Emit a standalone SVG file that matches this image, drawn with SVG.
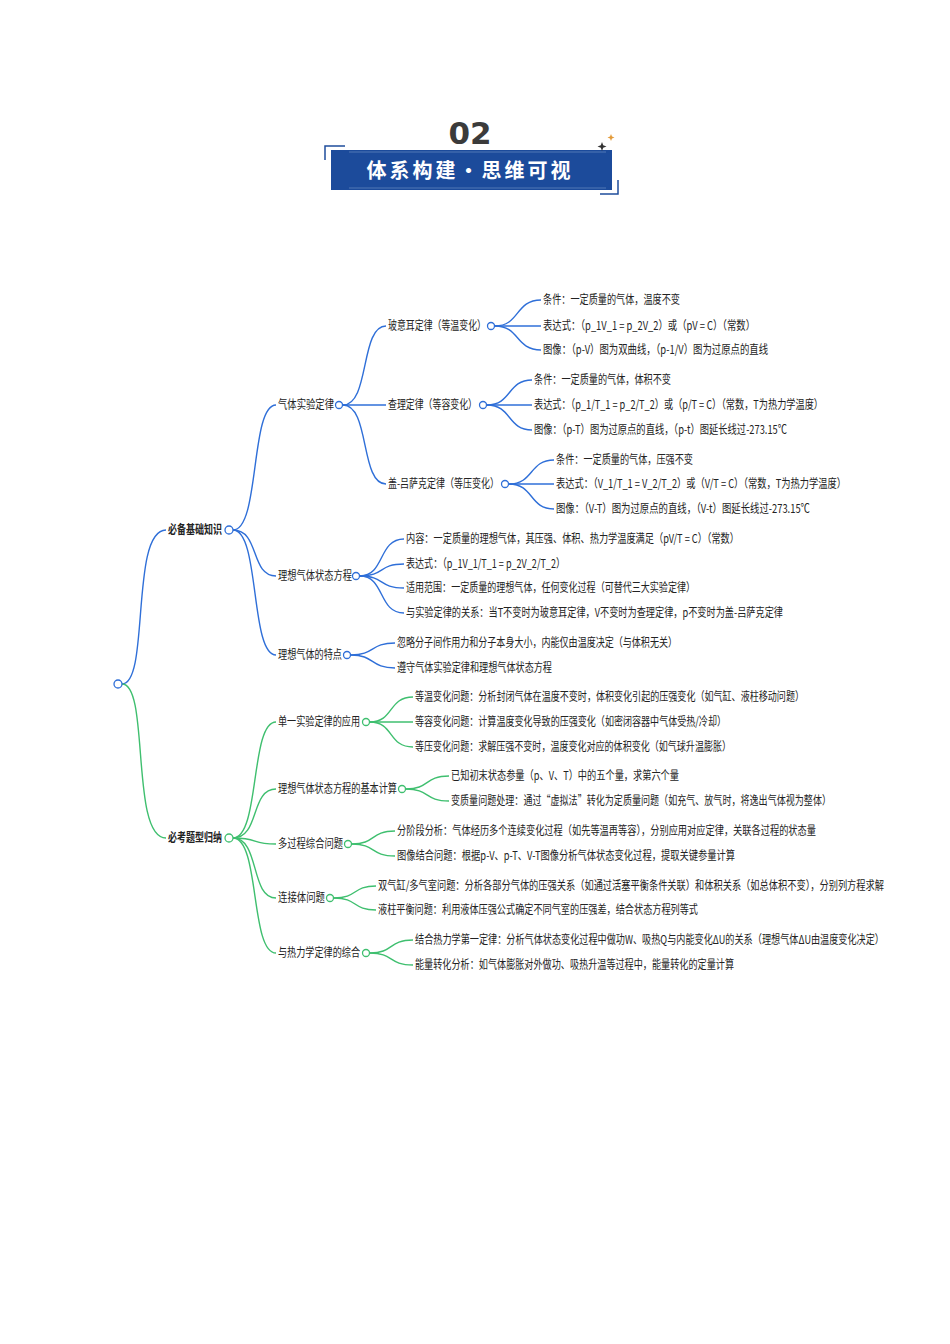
<svg xmlns="http://www.w3.org/2000/svg" width="950" height="1344" viewBox="0 0 950 1344">
<style>
text{font-family:"Noto Sans CJK SC","Liberation Sans",sans-serif;font-size:12px;fill:#222}
.b{font-weight:bold}
.cb{fill:#fff;stroke:#2f6fd8;stroke-width:1.3}
.cg{fill:#fff;stroke:#3fbf6f;stroke-width:1.3}
.lb{fill:none;stroke:#2f6fd8;stroke-width:1.4}
.lg{fill:none;stroke:#3fbf6f;stroke-width:1.4}
</style>
<rect width="950" height="1344" fill="#fff"/>
<g id="header">
<text x="470" y="144" text-anchor="middle" style="font-family:'DejaVu Sans',sans-serif;font-size:31px;font-weight:bold;fill:#3b3b3b">02</text>
<path d="M325 160V146H345" fill="none" stroke="#1f4e9c" stroke-width="1.5"/>
<path d="M618 180V194H600" fill="none" stroke="#1f4e9c" stroke-width="1.5"/>
<rect x="331" y="150" width="281" height="40" fill="#1c4b9b"/>
<path d="M349 152H606M349 188H606" stroke="#8ea9d6" stroke-width="0.8" opacity="0.6"/>
<text x="470" y="178" text-anchor="middle" class="b" style="font-size:20px;fill:#fff;letter-spacing:3px">体系构建·思维可视</text>
<path d="M602 142l1.2 3.3 3.3 1.2-3.3 1.2-1.2 3.3-1.2-3.3-3.3-1.2 3.3-1.2z" fill="#333"/>
<path d="M611 134l1 2.5 2.5 1-2.5 1-1 2.5-1-2.5-2.5-1 2.5-1z" fill="#e39b3a"/>
</g>
<g id="connectors">
<path class="lb" d="M122 684C150 684 130 530 166 530"/>
<path class="lg" d="M122 684C150 684 130 838 166 838"/>
<path class="lb" d="M233 530C260 530 250 405 276 405"/>
<path class="lb" d="M233 530C260 530 250 576 276 576"/>
<path class="lb" d="M233 530C260 530 250 655 276 655"/>
<path class="lb" d="M343 405C370 405 360 326 386 326"/>
<path class="lb" d="M343 405H386"/>
<path class="lb" d="M343 405C370 405 360 484 386 484"/>
<path class="lb" d="M495 326C520 326 515 300 541 300"/>
<path class="lb" d="M495 326H541"/>
<path class="lb" d="M495 326C520 326 515 350 541 350"/>
<path class="lb" d="M487 405C512 405 507 380 532 380"/>
<path class="lb" d="M487 405H532"/>
<path class="lb" d="M487 405C512 405 507 430 532 430"/>
<path class="lb" d="M509 484C534 484 529 460 554 460"/>
<path class="lb" d="M509 484H554"/>
<path class="lb" d="M509 484C534 484 529 509 554 509"/>
<path class="lb" d="M360 576C385 576 378 539 404 539"/>
<path class="lb" d="M360 576C385 576 378 564 404 564"/>
<path class="lb" d="M360 576C385 576 378 588 404 588"/>
<path class="lb" d="M360 576C385 576 378 613 404 613"/>
<path class="lb" d="M351 655C375 655 370 643 395 643"/>
<path class="lb" d="M351 655C375 655 370 668 395 668"/>
<path class="lg" d="M233 838C260 838 250 722 276 722"/>
<path class="lg" d="M233 838C260 838 250 789 276 789"/>
<path class="lg" d="M233 838C260 838 250 844 276 844"/>
<path class="lg" d="M233 838C260 838 250 898 276 898"/>
<path class="lg" d="M233 838C260 838 250 953 276 953"/>
<path class="lg" d="M370 722C394 722 388 697 413 697"/>
<path class="lg" d="M370 722H413"/>
<path class="lg" d="M370 722C394 722 388 747 413 747"/>
<path class="lg" d="M406 789C430 789 424 776 449 776"/>
<path class="lg" d="M406 789C430 789 424 801 449 801"/>
<path class="lg" d="M352 844C376 844 370 831 395 831"/>
<path class="lg" d="M352 844C376 844 370 856 395 856"/>
<path class="lg" d="M334 898C358 898 352 886 376 886"/>
<path class="lg" d="M334 898C358 898 352 910 376 910"/>
<path class="lg" d="M370 953C394 953 388 940 413 940"/>
<path class="lg" d="M370 953C394 953 388 965 413 965"/>
</g>
<g id="root"><circle class="cb" cx="118" cy="684" r="4"/></g>
<g id="n-jichu"><text class="b" x="168" y="534" textLength="54" lengthAdjust="spacingAndGlyphs">必备基础知识</text><circle class="cb" cx="229" cy="530" r="4"/></g>
<g id="n-tixing"><text class="b" x="168" y="842" textLength="54" lengthAdjust="spacingAndGlyphs">必考题型归纳</text><circle class="cg" cx="229" cy="838" r="4"/></g>
<g id="n-shiyan"><text x="278" y="409" textLength="56" lengthAdjust="spacingAndGlyphs">气体实验定律</text><circle class="cb" cx="339" cy="405" r="3.5"/></g>
<g id="n-boyi"><text x="388" y="330" textLength="98" lengthAdjust="spacingAndGlyphs">玻意耳定律（等温变化）</text><circle class="cb" cx="491" cy="326" r="3.5"/></g>
<g id="n-boyi-1"><text x="543" y="304" textLength="137" lengthAdjust="spacingAndGlyphs">条件：一定质量的气体，温度不变</text></g>
<g id="n-boyi-2"><text x="543" y="330" textLength="212" lengthAdjust="spacingAndGlyphs">表达式：（p_1V_1 = p_2V_2）或（pV = C）（常数）</text></g>
<g id="n-boyi-3"><text x="543" y="354" textLength="225" lengthAdjust="spacingAndGlyphs">图像：（p-V）图为双曲线，（p-1/V）图为过原点的直线</text></g>
<g id="n-chali"><text x="388" y="409" textLength="89" lengthAdjust="spacingAndGlyphs">查理定律（等容变化）</text><circle class="cb" cx="483" cy="405" r="3.5"/></g>
<g id="n-chali-1"><text x="534" y="384" textLength="137" lengthAdjust="spacingAndGlyphs">条件：一定质量的气体，体积不变</text></g>
<g id="n-chali-2"><text x="534" y="409" textLength="289" lengthAdjust="spacingAndGlyphs">表达式：（p_1/T_1 = p_2/T_2）或（p/T = C）（常数，T为热力学温度）</text></g>
<g id="n-chali-3"><text x="534" y="434" textLength="253" lengthAdjust="spacingAndGlyphs">图像：（p-T）图为过原点的直线，（p-t）图延长线过-273.15℃</text></g>
<g id="n-gai"><text x="388" y="488" textLength="111" lengthAdjust="spacingAndGlyphs">盖-吕萨克定律（等压变化）</text><circle class="cb" cx="505" cy="484" r="3.5"/></g>
<g id="n-gai-1"><text x="556" y="464" textLength="137" lengthAdjust="spacingAndGlyphs">条件：一定质量的气体，压强不变</text></g>
<g id="n-gai-2"><text x="556" y="488" textLength="290" lengthAdjust="spacingAndGlyphs">表达式：（V_1/T_1 = V_2/T_2）或（V/T = C）（常数，T为热力学温度）</text></g>
<g id="n-gai-3"><text x="556" y="513" textLength="254" lengthAdjust="spacingAndGlyphs">图像：（V-T）图为过原点的直线，（V-t）图延长线过-273.15℃</text></g>
<g id="n-zhuangtai"><text x="278" y="580" textLength="74" lengthAdjust="spacingAndGlyphs">理想气体状态方程</text><circle class="cb" cx="356" cy="576" r="3.5"/></g>
<g id="n-zt-1"><text x="406" y="543" textLength="333" lengthAdjust="spacingAndGlyphs">内容：一定质量的理想气体，其压强、体积、热力学温度满足（pV/T = C）（常数）</text></g>
<g id="n-zt-2"><text x="406" y="568" textLength="159" lengthAdjust="spacingAndGlyphs">表达式：（p_1V_1/T_1 = p_2V_2/T_2）</text></g>
<g id="n-zt-3"><text x="406" y="592" textLength="289" lengthAdjust="spacingAndGlyphs">适用范围：一定质量的理想气体，任何变化过程（可替代三大实验定律）</text></g>
<g id="n-zt-4"><text x="406" y="617" textLength="377" lengthAdjust="spacingAndGlyphs">与实验定律的关系：当T不变时为玻意耳定律，V不变时为查理定律，p不变时为盖-吕萨克定律</text></g>
<g id="n-tedian"><text x="278" y="659" textLength="64" lengthAdjust="spacingAndGlyphs">理想气体的特点</text><circle class="cb" cx="347" cy="655" r="3.5"/></g>
<g id="n-td-1"><text x="397" y="647" textLength="280" lengthAdjust="spacingAndGlyphs">忽略分子间作用力和分子本身大小，内能仅由温度决定（与体积无关）</text></g>
<g id="n-td-2"><text x="397" y="672" textLength="155" lengthAdjust="spacingAndGlyphs">遵守气体实验定律和理想气体状态方程</text></g>
<g id="n-danyi"><text x="278" y="726" textLength="82" lengthAdjust="spacingAndGlyphs">单一实验定律的应用</text><circle class="cg" cx="366" cy="722" r="3.5"/></g>
<g id="n-dy-1"><text x="415" y="701" textLength="389" lengthAdjust="spacingAndGlyphs">等温变化问题：分析封闭气体在温度不变时，体积变化引起的压强变化（如气缸、液柱移动问题）</text></g>
<g id="n-dy-2"><text x="415" y="726" textLength="311" lengthAdjust="spacingAndGlyphs">等容变化问题：计算温度变化导致的压强变化（如密闭容器中气体受热/冷却）</text></g>
<g id="n-dy-3"><text x="415" y="751" textLength="316" lengthAdjust="spacingAndGlyphs">等压变化问题：求解压强不变时，温度变化对应的体积变化（如气球升温膨胀）</text></g>
<g id="n-jisuan"><text x="278" y="793" textLength="119" lengthAdjust="spacingAndGlyphs">理想气体状态方程的基本计算</text><circle class="cg" cx="402" cy="789" r="3.5"/></g>
<g id="n-js-1"><text x="451" y="780" textLength="228" lengthAdjust="spacingAndGlyphs">已知初末状态参量（p、V、T）中的五个量，求第六个量</text></g>
<g id="n-js-2"><text x="451" y="805" textLength="380" lengthAdjust="spacingAndGlyphs">变质量问题处理：通过“虚拟法”转化为定质量问题（如充气、放气时，将逸出气体视为整体）</text></g>
<g id="n-duoguo"><text x="278" y="848" textLength="65" lengthAdjust="spacingAndGlyphs">多过程综合问题</text><circle class="cg" cx="348" cy="844" r="3.5"/></g>
<g id="n-dg-1"><text x="397" y="835" textLength="419" lengthAdjust="spacingAndGlyphs">分阶段分析：气体经历多个连续变化过程（如先等温再等容），分别应用对应定律，关联各过程的状态量</text></g>
<g id="n-dg-2"><text x="397" y="860" textLength="338" lengthAdjust="spacingAndGlyphs">图像结合问题：根据p-V、p-T、V-T图像分析气体状态变化过程，提取关键参量计算</text></g>
<g id="n-lianjie"><text x="278" y="902" textLength="47" lengthAdjust="spacingAndGlyphs">连接体问题</text><circle class="cg" cx="330" cy="898" r="3.5"/></g>
<g id="n-lj-1"><text x="378" y="890" textLength="506" lengthAdjust="spacingAndGlyphs">双气缸/多气室问题：分析各部分气体的压强关系（如通过活塞平衡条件关联）和体积关系（如总体积不变），分别列方程求解</text></g>
<g id="n-lj-2"><text x="378" y="914" textLength="320" lengthAdjust="spacingAndGlyphs">液柱平衡问题：利用液体压强公式确定不同气室的压强差，结合状态方程列等式</text></g>
<g id="n-relixue"><text x="278" y="957" textLength="82" lengthAdjust="spacingAndGlyphs">与热力学定律的综合</text><circle class="cg" cx="366" cy="953" r="3.5"/></g>
<g id="n-rl-1"><text x="415" y="944" textLength="469" lengthAdjust="spacingAndGlyphs">结合热力学第一定律：分析气体状态变化过程中做功W、吸热Q与内能变化ΔU的关系（理想气体ΔU由温度变化决定）</text></g>
<g id="n-rl-2"><text x="415" y="969" textLength="319" lengthAdjust="spacingAndGlyphs">能量转化分析：如气体膨胀对外做功、吸热升温等过程中，能量转化的定量计算</text></g>
</svg>
